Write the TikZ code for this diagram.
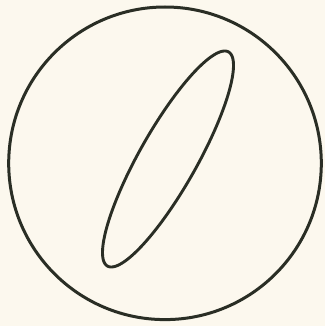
\documentclass[tikz,border=0pt]{standalone}
\definecolor{paper}{HTML}{FCF8EE}
\definecolor{ink}{HTML}{2A2E25}
\begin{document}
\begin{tikzpicture}[x=1pt,y=-1pt,
  outline/.style={draw=ink,line width=3pt},
  lobe/.style={draw=ink,line width=2.9pt,line join=round}]
\fill[paper] (0,0) rectangle (325,326);
\useasboundingbox (0,0) rectangle (325,326);
\coordinate (c) at (165,163.3);
\draw[outline] (c) circle[radius=156.3];
\draw[lobe] plot[domain=0:360,samples=240,smooth] ({168+65.5*cos(\x)},{159-108*cos(\x-30)}) -- cycle;
\end{tikzpicture}
\end{document}
